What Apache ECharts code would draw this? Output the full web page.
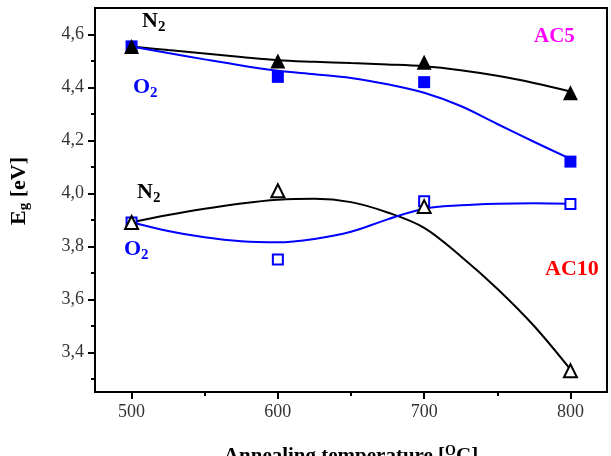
<!DOCTYPE html>
<html>
<head>
<meta charset="utf-8">
<script src="https://cdn.jsdelivr.net/npm/echarts@6/dist/echarts.min.js"></script>
<style>
  html, body { margin: 0; padding: 0; background: #fff; }
  #main { width: 611px; height: 456px; }
</style>
</head>
<body>
<div id="main"></div>
<script>
// measured points (annealing temperature, band gap)
var temps = [500, 600, 700, 800];
var ac5N2 = [4.555, 4.50, 4.495, 4.38];
var ac5O2 = [4.555, 4.44, 4.42, 4.12];
var ac10N2 = [3.89, 4.01, 3.95, 3.33];
var ac10O2 = [3.89, 3.75, 3.97, 3.96];

// fitted curves
var curveT = [500, 525, 550, 575, 600, 625, 650, 675, 700, 725, 750, 775, 800];
var fitAc5N2 = [4.555, 4.541, 4.528, 4.515, 4.503, 4.497, 4.492, 4.487, 4.480, 4.465, 4.444, 4.417, 4.385];
var fitAc5O2 = [4.555, 4.530, 4.506, 4.483, 4.463, 4.450, 4.436, 4.412, 4.380, 4.330, 4.262, 4.195, 4.130];
var fitAc10N2 = [3.891, 3.918, 3.942, 3.962, 3.976, 3.980, 3.967, 3.928, 3.870, 3.763, 3.640, 3.500, 3.335];
var fitAc10O2 = [3.891, 3.858, 3.834, 3.819, 3.815, 3.828, 3.855, 3.902, 3.942, 3.955, 3.961, 3.963, 3.961];

var xLabels = [500, 600, 700, 800];
var xMinor = [550, 650, 750];
var yLabels = [3.4, 3.6, 3.8, 4.0, 4.2, 4.4, 4.6];
var yMinor = [3.3, 3.5, 3.7, 3.9, 4.1, 4.3, 4.5];

function pairs(xs, ys) {
    return xs.map(function (x, i) { return [x, ys[i]]; });
}

var serif = 'Liberation Serif';
var myChart = echarts.init(document.getElementById('main'));

function curve(data, color) {
    return {
        type: 'line', data: pairs(curveT, data), smooth: 0.35, symbol: 'none',
        lineStyle: { color: color, width: 2 }, silent: true, z: 2
    };
}
function points(data, symbol, size, fill, border) {
    return {
        type: 'scatter', data: pairs(temps, data), symbol: symbol, symbolSize: size,
        itemStyle: { color: fill, borderColor: border, borderWidth: fill === '#fff' ? 2 : 0, opacity: 1 },
        z: 3
    };
}
function label(x, y, main, sub, color) {
    return {
        type: 'text', left: x, top: y, z: 10,
        style: {
            text: '{m|' + main + '}{s|' + sub + '}',
            fill: color,
            rich: {
                m: { fontFamily: serif, fontWeight: 'bold', fontSize: 22, lineHeight: 22, fill: color },
                s: { fontFamily: serif, fontWeight: 'bold', fontSize: 15, lineHeight: 15, padding: [12, 0, 0, 0], fill: color }
            }
        }
    };
}

var option = {
    animation: false,
    grid: {
        left: 95, right: 4, top: 8, bottom: 64,
        outerBoundsMode: 'none', containLabel: false,
        show: true, borderColor: '#000', borderWidth: 2
    },
    xAxis: [{
        type: 'value', min: 475, max: 825,
        axisLine: { lineStyle: { color: '#000', width: 2 } },
        axisTick: { inside: false, length: 7, lineStyle: { color: '#000', width: 2 }, customValues: xLabels },
        axisLabel: { customValues: xLabels, fontFamily: serif, fontSize: 18, color: '#333', margin: 11 },
        splitLine: { show: false },
        name: '{t|Annealing temperature [}{o|O}{t|C]}',
        nameLocation: 'middle', nameGap: 52,
        nameTextStyle: {
            rich: {
                t: { fontFamily: serif, fontWeight: 'bold', fontSize: 21, color: '#000' },
                o: { fontFamily: serif, fontWeight: 'bold', fontSize: 14, color: '#000', padding: [0, 0, 11, 0] }
            }
        }
    }, {
        type: 'value', min: 475, max: 825, position: 'bottom',
        axisLine: { show: false },
        axisTick: { length: 4, lineStyle: { color: '#000', width: 2 }, customValues: xMinor },
        axisLabel: { show: false }, splitLine: { show: false }
    }],
    yAxis: [{
        type: 'value', min: 3.25, max: 4.7,
        axisLine: { show: true, lineStyle: { color: '#000', width: 2 } },
        axisTick: { show: true, length: 7, lineStyle: { color: '#000', width: 2 }, customValues: yLabels },
        axisLabel: {
            customValues: yLabels, fontFamily: serif, fontSize: 18, color: '#333', margin: 11,
            formatter: function (v) { return v.toFixed(1).replace('.', ','); }
        },
        splitLine: { show: false },
        name: '{e|E}{g|g}{t| [eV]}',
        nameLocation: 'middle', nameRotate: 90, nameGap: 63,
        nameTextStyle: {
            padding: [0, 0, 0, 18],
            rich: {
                e: { fontFamily: serif, fontWeight: 'bold', fontSize: 22, color: '#000' },
                g: { fontFamily: serif, fontWeight: 'bold', fontSize: 15, color: '#000', padding: [11, 0, 0, 0] },
                t: { fontFamily: serif, fontWeight: 'bold', fontSize: 22, color: '#000' }
            }
        }
    }, {
        type: 'value', min: 3.25, max: 4.7, position: 'left',
        axisLine: { show: false },
        axisTick: { show: true, length: 4, lineStyle: { color: '#000', width: 2 }, customValues: yMinor },
        axisLabel: { show: false }, splitLine: { show: false }
    }],
    graphic: [
        label(142, 8, 'N', '2', '#000'),
        label(133, 74, 'O', '2', '#0000ff'),
        label(137, 179, 'N', '2', '#000'),
        label(124, 236, 'O', '2', '#0000ff'),
        { type: 'text', left: 534, top: 26, z: 10,
          style: { text: 'AC5', fill: '#ff00ff', font: 'bold 21px "Liberation Serif"' } },
        { type: 'text', left: 545, top: 258, z: 10,
          style: { text: 'AC10', fill: '#ff0000', font: 'bold 22px "Liberation Serif"' } }
    ],
    series: [
        curve(fitAc5N2, '#000'),
        curve(fitAc5O2, '#0000ff'),
        curve(fitAc10N2, '#000'),
        curve(fitAc10O2, '#0000ff'),
        points(ac5O2, 'rect', 12, '#0000ff', '#0000ff'),
        points(ac5N2, 'triangle', 15, '#000', '#000'),
        points(ac10O2, 'rect', 10, '#fff', '#0000ff'),
        points(ac10N2, 'triangle', 13, '#fff', '#000')
    ]
};

myChart.setOption(option);
</script>
</body>
</html>
